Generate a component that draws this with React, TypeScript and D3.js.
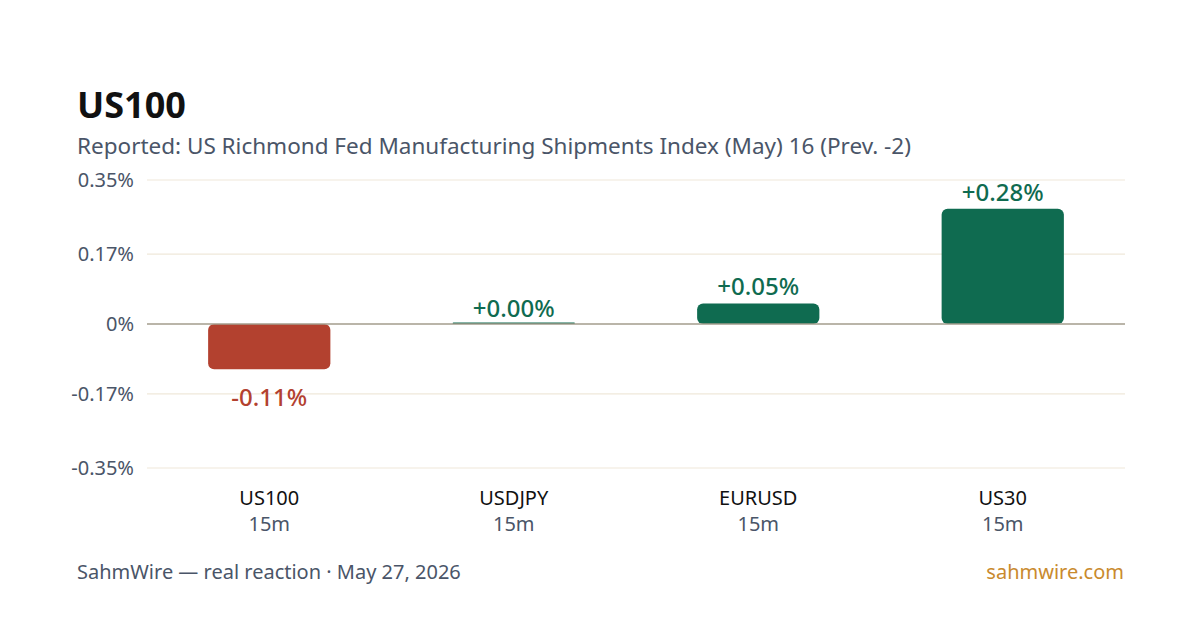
import * as d3 from 'd3'

const width = 1200
const height = 630
const margin = { top: 180, right: 75, bottom: 162, left: 147 }

const title = 'US100'
const subtitle = 'Reported: US Richmond Fed Manufacturing Shipments Index (May) 16 (Prev. -2)'
const footerLeft = 'SahmWire — real reaction · May 27, 2026'
const footerRight = 'sahmwire.com'

const symbols = ['US100', 'USDJPY', 'EURUSD', 'US30']
const windows = ['15m', '15m', '15m', '15m']
const moves = [-0.11, 0.0, 0.05, 0.28]
const yTicks = [0.35, 0.17, 0, -0.17, -0.35]
const yTickLabels = ['0.35%', '0.17%', '0%', '-0.17%', '-0.35%']

const font = "'Noto Sans', 'Open Sans', sans-serif"
const green = '#0f6b50'
const red = '#b3412f'

function App() {
  const innerWidth = width - margin.left - margin.right
  const innerHeight = height - margin.top - margin.bottom

  const x = d3.scaleBand().domain(symbols).range([0, innerWidth]).paddingInner(0.5).paddingOuter(0.25)
  const y = d3.scaleLinear().domain([-0.35, 0.35]).range([innerHeight, 0])

  const fmt = (v: number) => (v >= 0 ? '+' : '') + v.toFixed(2) + '%'

  return (
    <svg width={width} height={height} style={{ display: 'block', position: 'absolute', left: 0, top: 0, background: '#fff' }}>
      <rect width={width} height={height} fill="#fff" />
      <text x={77} y={118} fontFamily={font} fontSize={36} fontWeight={700} fill="#111">
        {title}
      </text>
      <text x={77} y={154} fontFamily={font} fontSize={22.5} fill="#4a5568">
        {subtitle}
      </text>
      <g transform={`translate(${margin.left},${margin.top})`}>
        {yTicks.map((t, i) => (
          <g key={t} transform={`translate(0,${y(t)})`}>
            {t !== 0 && <line x2={innerWidth} stroke="#efe8da" strokeWidth={1.2} />}
            <text x={-13} dy="0.35em" textAnchor="end" fontFamily={font} fontSize={20} fill="#4a5568">
              {yTickLabels[i]}
            </text>
          </g>
        ))}
        {symbols.map((s, i) => {
          const v = moves[i]
          const y0 = y(0)
          const y1 = y(v)
          const top = Math.min(y0, y1)
          const h = Math.max(Math.abs(y1 - y0), 1.5)
          const color = v < 0 ? red : green
          const cx = (x(s) ?? 0) + x.bandwidth() / 2
          return (
            <g key={s}>
              <rect
                x={x(s)}
                y={v < 0 ? y0 : y0 - h}
                width={x.bandwidth()}
                height={h}
                rx={Math.min(6, h / 2)}
                fill={color}
              />
              <text
                x={cx}
                y={v < 0 ? top + h + 37 : top - (h > 2 ? 8 : 7)}
                textAnchor="middle"
                fontFamily={font}
                fontSize={24}
                fontWeight={500}
                fill={color}
              >
                {fmt(v)}
              </text>
              <text x={cx} y={innerHeight + 37} textAnchor="middle" fontFamily={font} fontSize={20} fill="#111">
                {s}
              </text>
              <text x={cx} y={innerHeight + 63} textAnchor="middle" fontFamily={font} fontSize={20} fill="#4a5568">
                {windows[i]}
              </text>
            </g>
          )
        })}
        <line x2={innerWidth} y1={y(0)} y2={y(0)} stroke="#a39d8c" strokeWidth={1.5} />
      </g>
      <text x={77} y={579} fontFamily={font} fontSize={20} fill="#4a5568">
        {footerLeft}
      </text>
      <text x={1124} y={579} textAnchor="end" fontFamily={font} fontSize={20} fill="#c98a2e">
        {footerRight}
      </text>
    </svg>
  )
}

export default App
